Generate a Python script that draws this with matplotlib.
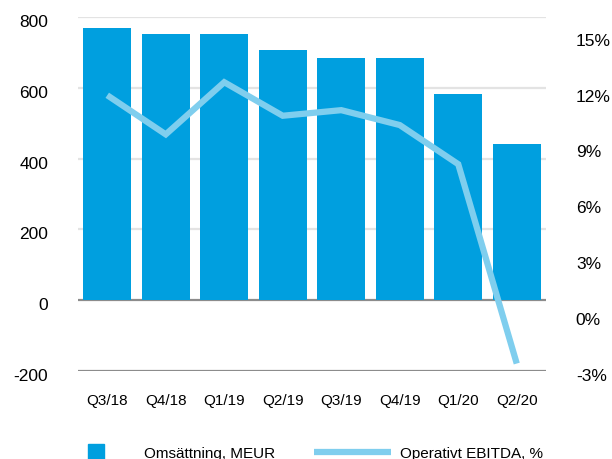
import matplotlib
matplotlib.use("Agg")
import matplotlib.pyplot as plt
from matplotlib.lines import Line2D
from matplotlib.transforms import ScaledTranslation

plt.rcParams['font.family'] = ['Liberation Sans', 'DejaVu Sans']

categories = ["Q3/18", "Q4/18", "Q1/19", "Q2/19", "Q3/19", "Q4/19", "Q1/20", "Q2/20"]
revenue = [769, 752, 752, 707, 685, 685, 583, 442]
ebitda_pct = [11.8, 9.7, 12.5, 10.7, 11.0, 10.2, 8.1, -2.6]
left_ticks = [-200, 0, 200, 400, 600, 800]
right_ticks = [-3, 0, 3, 6, 9, 12, 15]

bar_color = "#009FDF"
line_color = "#7FCEEE"

fig = plt.figure(figsize=(6.12, 4.6), dpi=100)
ax = fig.add_axes([78/612, 1-372/460, (546-78)/612, (372-18)/460])
x = list(range(len(categories)))

# grid
for t in left_ticks:
    if t in (0, -200):
        ax.axhline(t, color="#8C8C8C", lw=1.6, zorder=1)
    else:
        ax.axhline(t, color="#E3E3E3", lw=1.6, zorder=1)

ax.bar(x, revenue, width=0.82, color=bar_color, zorder=2)
ax.set_xlim(-0.5, 7.5)
ax.set_ylim(-200, 800)
ax.set_yticks(left_ticks)
ax.set_yticklabels([str(t) for t in left_ticks])
ax.set_xticks(x)
ax.set_xticklabels(categories)
ax.tick_params(axis='y', length=0, pad=21.5, labelsize=12.5)
ax.tick_params(axis='x', length=0, pad=16, labelsize=11)
for s in ax.spines.values():
    s.set_visible(False)

ax2 = ax.twinx()
ax2.plot(x, ebitda_pct, color=line_color, lw=4.5, solid_capstyle='butt', solid_joinstyle='miter', zorder=3)
ax2.set_ylim(-3, 16)
ax2.set_yticks(right_ticks)
ax2.set_yticklabels([f"{t}%" for t in right_ticks])
ax2.tick_params(axis='y', length=0, pad=21.5, labelsize=12.5)
for s in ax2.spines.values():
    s.set_visible(False)

offset = ScaledTranslation(0, -3/100, fig.dpi_scale_trans)
for lbl in ax.get_yticklabels() + ax2.get_yticklabels():
    lbl.set_transform(lbl.get_transform() + offset)

handles = [
    Line2D([], [], marker='s', linestyle='none', markersize=11.5, color=bar_color),
    Line2D([], [], color=line_color, lw=4.5, solid_capstyle='butt'),
]
labels = ["Omsättning, MEUR", "Operativt EBITDA, %"]
fig.legend(handles, labels, loc='center left', bbox_to_anchor=(58/612, 1-454/460),
           ncol=2, frameon=False, borderpad=0, borderaxespad=0,
           handlelength=5.0, handletextpad=0.6, columnspacing=2.6, fontsize=11)

fig.savefig("out.png", dpi=100)
